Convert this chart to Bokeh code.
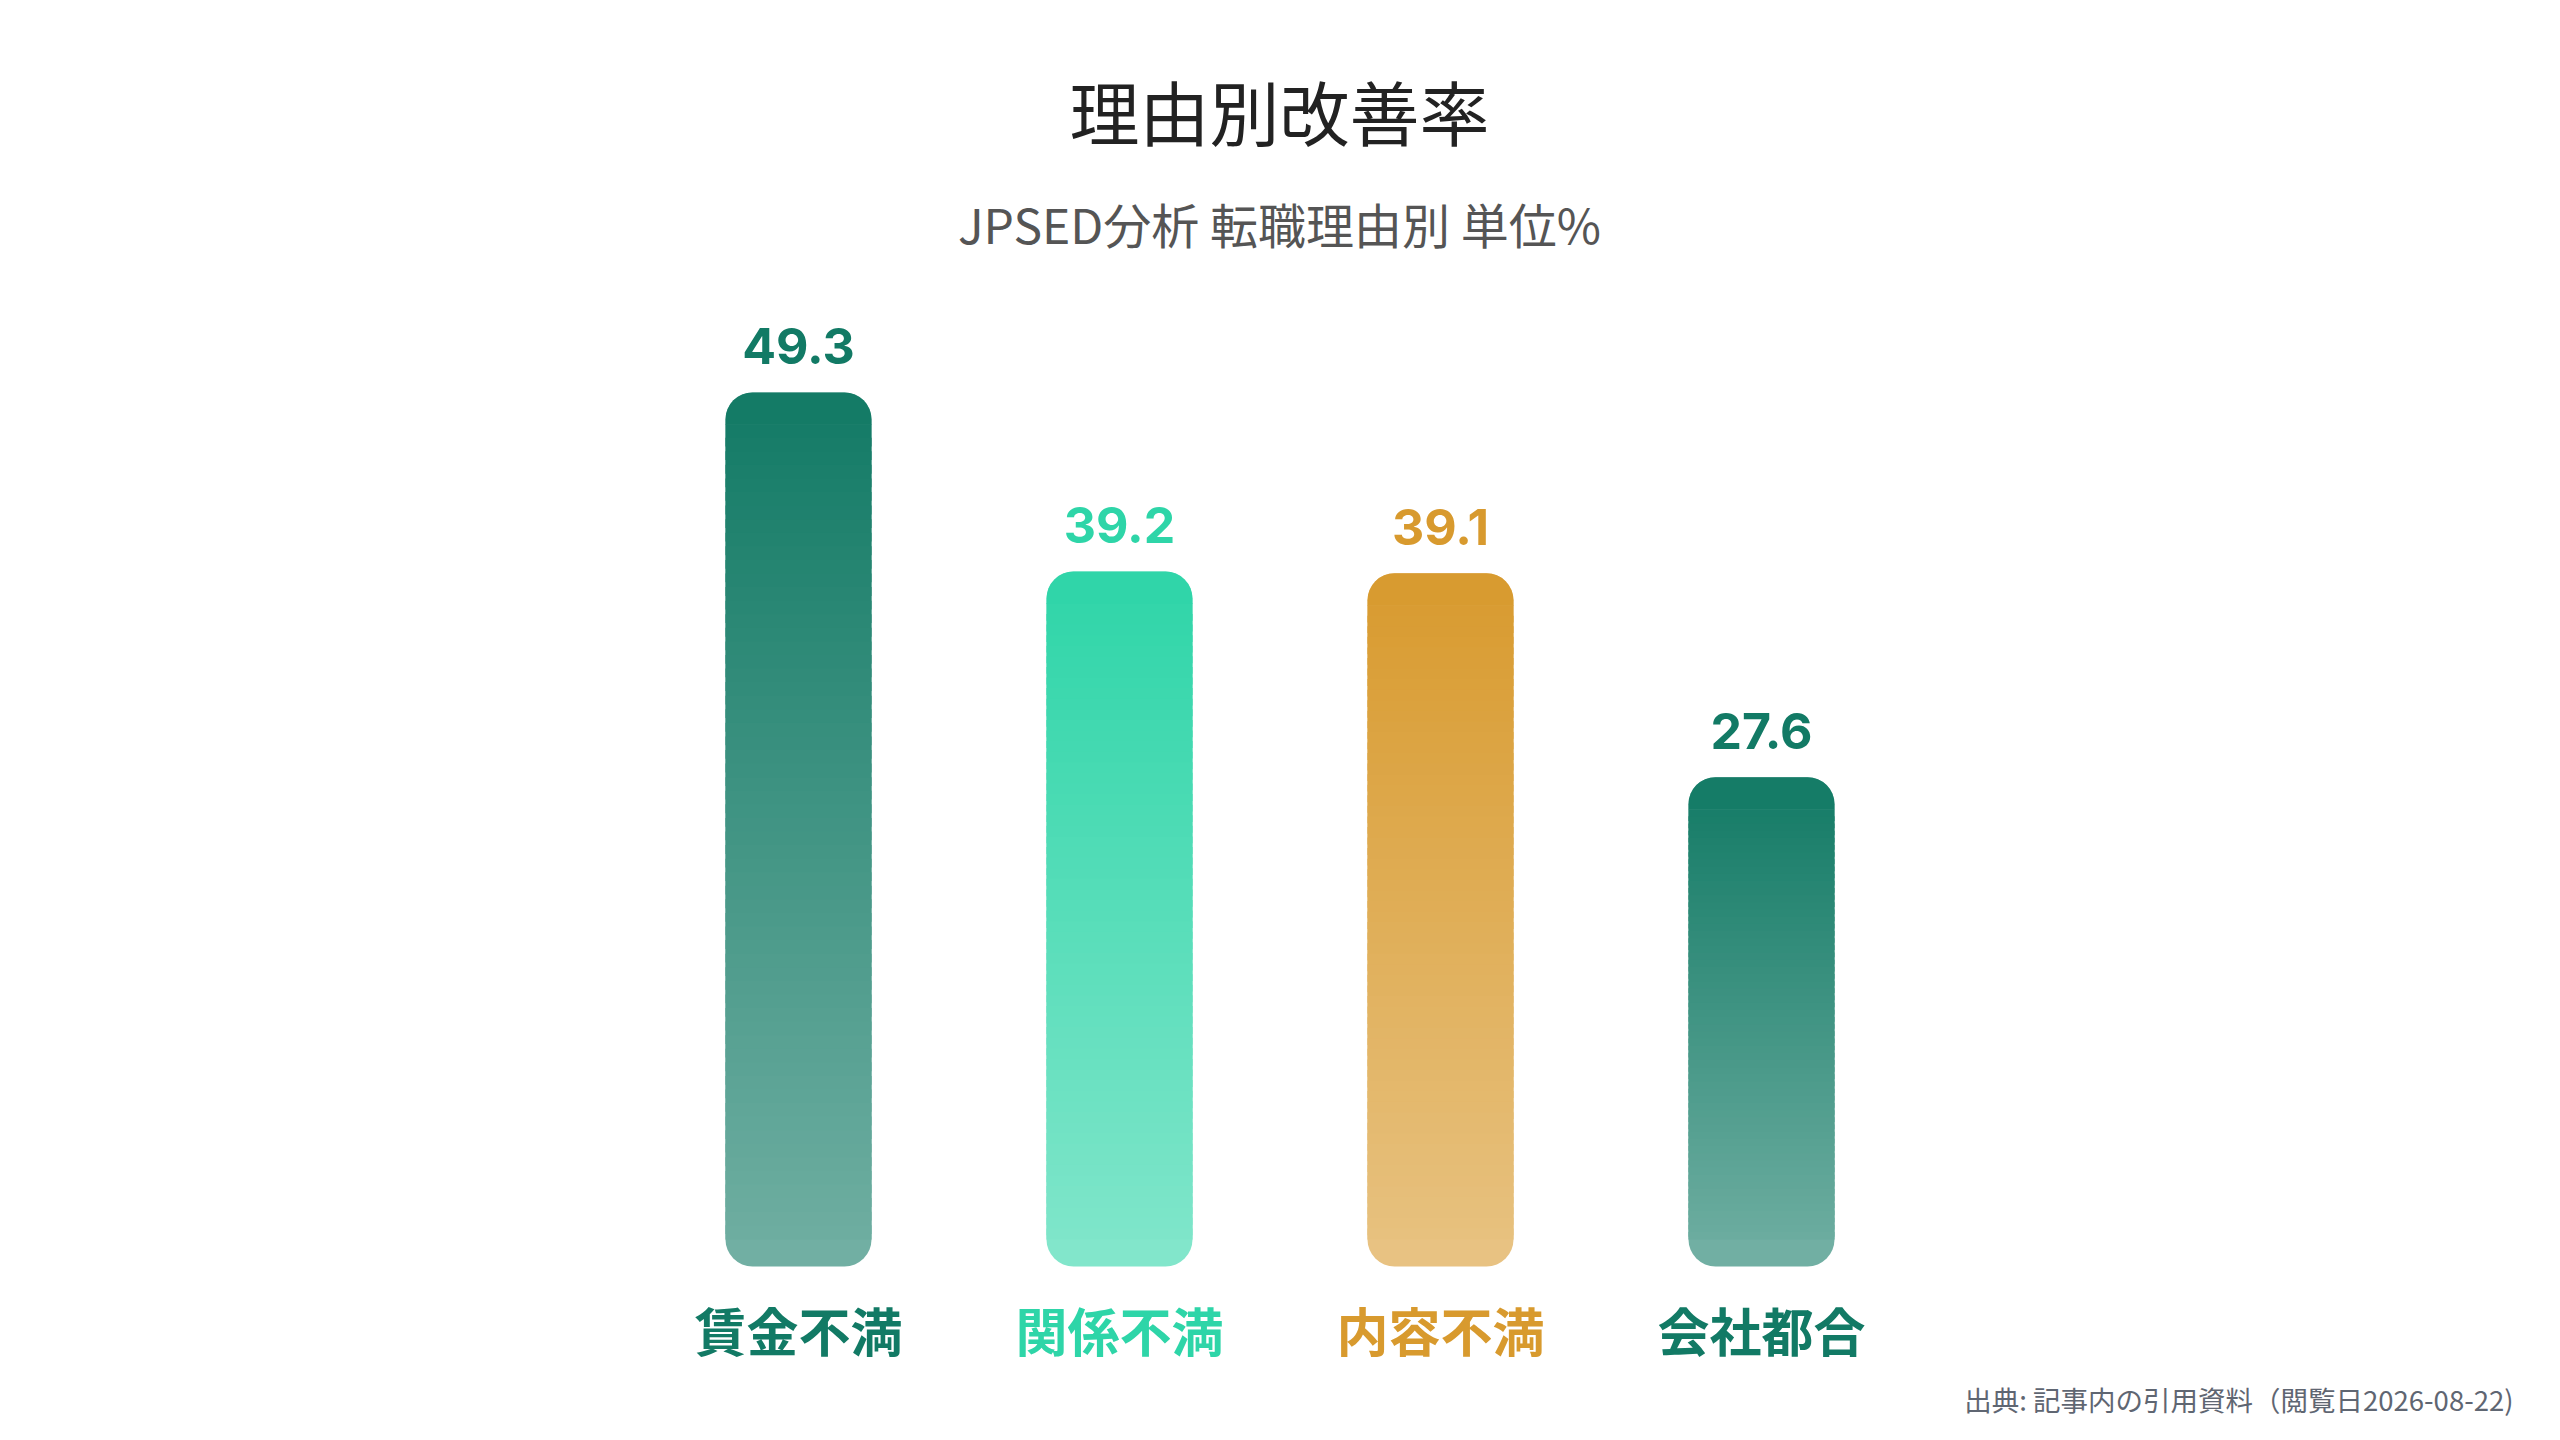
from bokeh.plotting import figure
from bokeh.models import Range1d, Label, ColumnDataSource
from bokeh.core.properties import value
from bokeh.embed import file_html
from bokeh.resources import INLINE

# ---- data ----
categories = ["賃金不満", "関係不満", "内容不満", "会社都合"]
rates = [49.3, 39.2, 39.1, 27.6]
bar_colors = ["#127a65", "#2ed5a8", "#d89a2e", "#127a65"]
title_text = "理由別改善率"
subtitle_text = "JPSED分析 転職理由別 単位%"
source_text = "出典: 記事内の引用資料（閲覧日2026-08-22)"

# ---- layout ----
W, H = 2544, 1424
PX_PER_X = 321.0
X0_PX = 798.0          # screen x of first bar centre (figure coords)
PX_PER_Y = 17.73
BASE_PX = 1266.0       # screen y (from top) of value 0
x_start = -X0_PX / PX_PER_X
x_end = x_start + W / PX_PER_X
y_start = -(H - BASE_PX) / PX_PER_Y
y_end = y_start + H / PX_PER_Y

def sx(px):
    return x_start + px / PX_PER_X

def sy(px_from_top):
    return y_start + (H - px_from_top) / PX_PER_Y

FONT = "Noto Sans CJK JP"
NUMFONT = "Inter"
BAR_W = 146 / PX_PER_X
RADIUS = 27
R_UNITS = RADIUS / PX_PER_Y

p = figure(width=W, height=H, output_backend="svg", toolbar_location=None,
           x_range=Range1d(x_start, x_end), y_range=Range1d(y_start, y_end),
           min_border=0, background_fill_color="white", border_fill_color="white")
p.axis.visible = False
p.grid.visible = False
p.outline_line_color = None

def blend(hexc, a):
    h = hexc.lstrip("#")
    r, g, b = int(h[0:2], 16), int(h[2:4], 16), int(h[4:6], 16)
    f = lambda c: int(round(a * c + (1 - a) * 255))
    return "#%02x%02x%02x" % (f(r), f(g), f(b))

xs = list(range(len(categories)))

# base bars (bottom colour, all corners rounded)
base = ColumnDataSource(dict(
    left=[x - BAR_W / 2 for x in xs], right=[x + BAR_W / 2 for x in xs],
    top=rates, bottom=[0] * len(rates),
    color=[blend(c, 0.6) for c in bar_colors]))
p.quad(left="left", right="right", top="top", bottom="bottom", source=base,
       fill_color="color", line_color=None, border_radius=RADIUS)

# gradient slices
N = 60
top_s = dict(left=[], right=[], top=[], bottom=[], color=[])
mid_s = dict(left=[], right=[], top=[], bottom=[], color=[])
for x, v, c in zip(xs, rates, bar_colors):
    span_bot = R_UNITS
    first_bot = v - R_UNITS * 1.2
    top_s["left"].append(x - BAR_W / 2); top_s["right"].append(x + BAR_W / 2)
    top_s["top"].append(v); top_s["bottom"].append(first_bot)
    top_s["color"].append(blend(c, 1.0 - 0.4 * (R_UNITS * 0.6 / v)))
    step = (first_bot - span_bot) / N
    for k in range(N):
        t = first_bot - k * step
        b = t - step * 1.6
        if b < span_bot:
            b = span_bot
        mid = t - step / 2
        a = 1.0 - 0.4 * ((v - mid) / v)
        mid_s["left"].append(x - BAR_W / 2); mid_s["right"].append(x + BAR_W / 2)
        mid_s["top"].append(t + step * 0.05); mid_s["bottom"].append(b)
        mid_s["color"].append(blend(c, a))

p.quad(left="left", right="right", top="top", bottom="bottom",
       source=ColumnDataSource(mid_s), fill_color="color", line_color=None)
p.quad(left="left", right="right", top="top", bottom="bottom",
       source=ColumnDataSource(top_s), fill_color="color", line_color=None,
       border_radius=(RADIUS, RADIUS, 0, 0))

# value labels
vals = ColumnDataSource(dict(x=xs, y=rates, t=["%.1f" % r for r in rates], c=bar_colors))
p.text(x="x", y="y", text="t", source=vals, text_color="c",
       text_font=value(NUMFONT), text_font_style="bold", text_font_size="50px",
       text_align="center", text_baseline="alphabetic", y_offset=-46)

# category labels
cats = ColumnDataSource(dict(x=xs, y=[0] * len(xs), t=categories, c=bar_colors))
p.text(x="x", y="y", text="t", source=cats, text_color="c",
       text_font=value(FONT), text_font_style="bold", text_font_size="52px",
       text_align="center", text_baseline="middle", y_offset=63)

# titles
p.add_layout(Label(x=sx(1279), y=sy(110), text=title_text, text_font=FONT,
                   text_font_size="70px", text_color="#222222",
                   text_align="center", text_baseline="middle"))
p.add_layout(Label(x=sx(1279), y=sy(222), text=subtitle_text, text_font=FONT,
                   text_font_size="48px", text_color="#555555",
                   text_align="center", text_baseline="middle"))
p.add_layout(Label(x=sx(2513), y=sy(1398), text=source_text, text_font=FONT,
                   text_font_size="27.5px", text_color="#5f6672",
                   text_align="right", text_baseline="middle"))

open("out.html", "w").write(file_html(p, INLINE))
